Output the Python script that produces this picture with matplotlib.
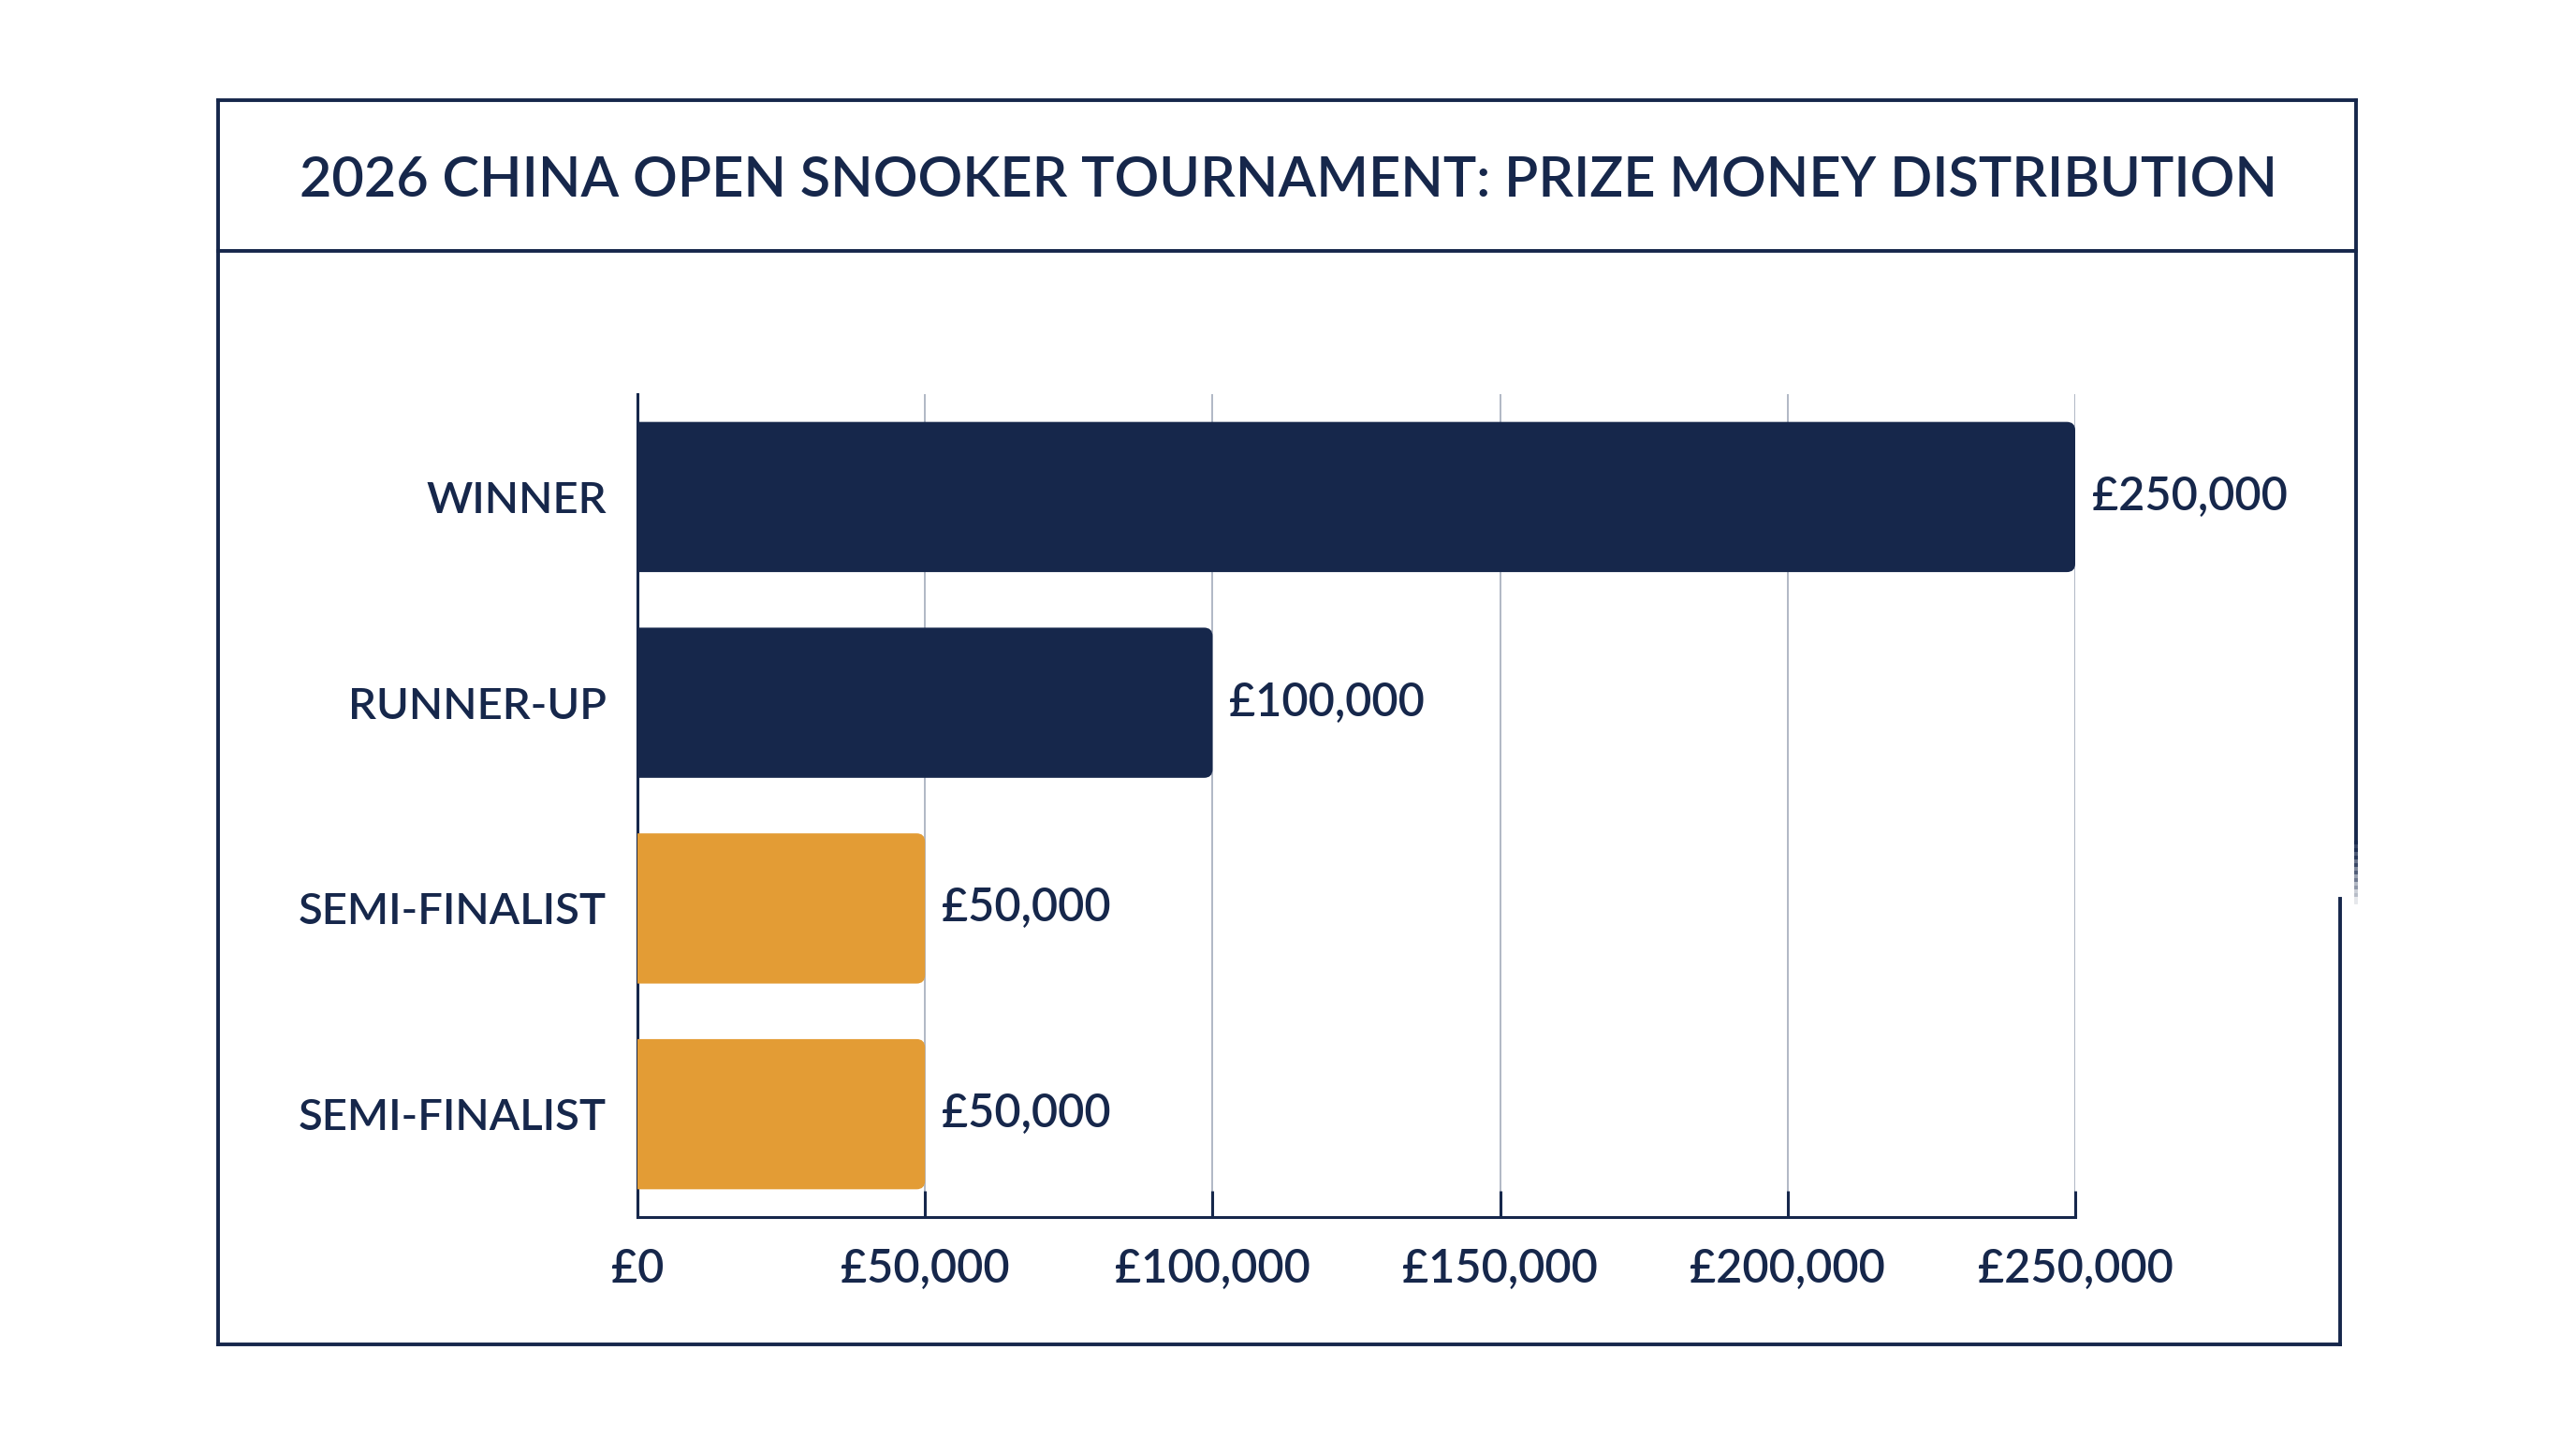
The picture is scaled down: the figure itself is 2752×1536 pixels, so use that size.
import matplotlib.pyplot as plt
from matplotlib.lines import Line2D
from matplotlib.patches import FancyBboxPatch
from matplotlib.ticker import FuncFormatter

categories = ['WINNER', 'RUNNER-UP', 'SEMI-FINALIST', 'SEMI-FINALIST']
prize_money = [250000, 100000, 50000, 50000]
bar_colors = ['#16274b', '#16274b', '#e39c35', '#e39c35']
x_ticks = [0, 50000, 100000, 150000, 200000, 250000]

NAVY = '#16274b'
GRID = '#a3abbb'
W, H = 2752, 1536

plt.rcParams['font.family'] = ['Lato', 'DejaVu Sans']


def fx(x):
    return x / W


def fy(y):
    return 1 - y / H


def frame_line(xs, ys, **kw):
    fig.add_artist(Line2D([fx(v) for v in xs], [fy(v) for v in ys],
                          transform=fig.transFigure, color=NAVY,
                          lw=1.4, solid_capstyle='projecting', **kw))


fig = plt.figure(figsize=(W / 200, H / 200), dpi=200)
fig.patch.set_facecolor('white')

# axes placed in pixel space
left, right, top, bottom = 681, 2217, 421, 1300
ax = fig.add_axes([fx(left), fy(bottom), fx(right - left), (bottom - top) / H])

y_pos = list(range(len(categories)))
bars = ax.barh(y_pos, prize_money, height=0.73, color=bar_colors, zorder=3)
ax.set_xlim(0, x_ticks[-1])
ax.set_ylim(len(categories) - 0.5, -0.5)

# rounded right ends
xpp = x_ticks[-1] / (right - left)
ypp = len(categories) / (bottom - top)
r = 9 * xpp
for b in bars:
    b.set_visible(False)
    p = FancyBboxPatch((b.get_x() - r, b.get_y()), b.get_width() + r, b.get_height(),
                       boxstyle=f'round,pad=0,rounding_size={r}',
                       mutation_aspect=ypp / xpp, facecolor=b.get_facecolor(),
                       edgecolor='none', zorder=3)
    ax.add_patch(p)

for b, v in zip(bars, prize_money):
    ax.text(v + 18 * xpp, b.get_y() + b.get_height() / 2, f'£{v:,}',
            va='center', ha='left', fontsize=17.5, color=NAVY, fontweight='semibold')

ax.set_xticks(x_ticks)
ax.xaxis.set_major_formatter(FuncFormatter(lambda v, _: f'£{int(v):,}'))
ax.set_yticks(y_pos)
ax.set_yticklabels(categories)
ax.grid(axis='x', color=GRID, lw=0.6, zorder=0)
ax.set_axisbelow(True)

for s in ['top', 'right']:
    ax.spines[s].set_visible(False)
for s in ['left', 'bottom']:
    ax.spines[s].set_color(NAVY)
    ax.spines[s].set_linewidth(1.1)

ax.tick_params(axis='x', direction='in', length=10, width=1.1, color=NAVY,
               pad=12, labelsize=17.5, labelcolor=NAVY)
ax.tick_params(axis='y', length=0, pad=12, labelsize=17, labelcolor=NAVY)
for lab in ax.get_xticklabels() + ax.get_yticklabels():
    lab.set_fontweight('semibold')

# outer frame
frame_line([233, 2517], [107, 107])
frame_line([233, 2517], [268, 268])
frame_line([233, 233], [107, 1436])
frame_line([233, 2500], [1436, 1436])
frame_line([2500, 2500], [960, 1436])
frame_line([2517, 2517], [107, 900])
for i in range(8):
    y0 = 900 + i * 8
    fig.add_artist(Line2D([fx(2517)] * 2, [fy(y0), fy(y0 + 8)],
                          transform=fig.transFigure, color=NAVY,
                          lw=1.4, alpha=1 - (i + 1) / 9))

fig.text(0.5, fy(193), '2026 CHINA OPEN SNOOKER TOURNAMENT: PRIZE MONEY DISTRIBUTION',
         ha='center', va='center', fontsize=21.4, fontweight='semibold', color=NAVY)

fig.savefig('out.png', dpi=200, facecolor='white')
